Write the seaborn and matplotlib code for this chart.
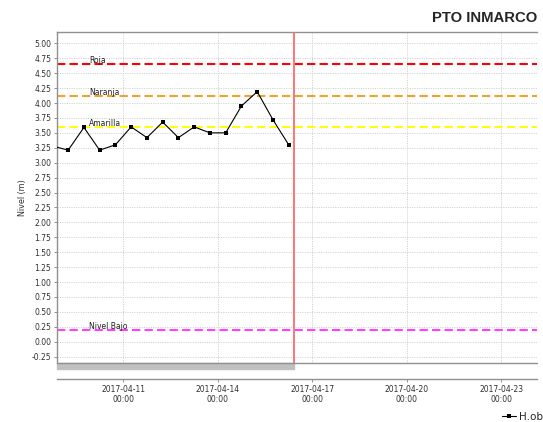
import pandas as pd
import matplotlib
matplotlib.use("Agg")
import matplotlib.pyplot as plt
import matplotlib.dates as mdates
import matplotlib.ticker as mticker
from matplotlib.patches import Rectangle
from matplotlib.lines import Line2D
import seaborn as sns

# datos de nivel observado (cada 12 h)
fechas = pd.date_range("2017-04-08 18:00", "2017-04-16 06:00", freq="12h")
nivel_obs = [3.28, 3.21, 3.59, 3.21, 3.30, 3.60, 3.42, 3.68, 3.42, 3.60,
             3.50, 3.50, 3.95, 4.19, 3.72, 3.30]

# umbrales de alerta
umbral_nombres = ["Roja", "Naranja", "Amarilla", "Nivel Bajo"]
umbral_valores = [4.65, 4.12, 3.60, 0.19]
umbral_colores = ["#ff0000", "#f5a02a", "#ffff00", "#ff40ff"]

titulo = "PTO INMARCO"
fecha_actual = pd.Timestamp("2017-04-16 10:20")
x_ini = pd.Timestamp("2017-04-08 21:16")
x_fin = pd.Timestamp("2017-04-24 03:10")
etiqueta_x = pd.Timestamp("2017-04-09 22:00")

sns.set_style("white")
plt.rcParams['font.family'] = ['DejaVu Sans']

fig = plt.figure(figsize=(5.43, 4.22), dpi=100)
ax = fig.add_axes([0.1044, 0.1398, 0.8846, 0.7851])

df = pd.DataFrame({"Fecha": fechas, "Nivel": nivel_obs})

# lineas de umbral con su etiqueta
for nombre, valor, color in zip(umbral_nombres, umbral_valores, umbral_colores):
    ax.axhline(valor, color=color, lw=1.5, ls=(0, (4, 2)), zorder=2)
    ax.annotate(nombre, (mdates.date2num(etiqueta_x), valor), xytext=(0, 2.6),
                textcoords="offset points", fontsize=5.5, va="center", ha="left",
                color="#202020", zorder=4)

sns.lineplot(data=df, x="Fecha", y="Nivel", ax=ax, color="black", lw=0.8,
             marker="s", markersize=2.6, markeredgewidth=0, label="H.obs",
             legend=False, zorder=3)

# linea vertical de fecha actual
ax.axvline(fecha_actual, color="#ff6a6a", lw=1.3, zorder=3)

ax.set_xlim(x_ini, x_fin)
ax.set_ylim(-0.356, 5.195)
ax.yaxis.set_major_locator(mticker.MultipleLocator(0.25))
ax.yaxis.set_major_formatter(mticker.FormatStrFormatter("%.2f"))
ax.xaxis.set_major_locator(mdates.DayLocator(bymonthday=[11, 14, 17, 20, 23]))
ax.xaxis.set_major_formatter(mdates.DateFormatter("%Y-%m-%d\n%H:%M"))

ax.grid(True, color="#cccccc", ls=(0, (1.4, 1.4)), lw=0.6)
ax.set_xlabel("")
ax.set_ylabel("Nivel (m)", fontsize=5.8, color="#303030", labelpad=3)
ax.tick_params(axis="y", labelsize=5.5, length=2, width=0.6, pad=2,
               colors="#808080", labelcolor="#303030", left=True)
ax.tick_params(axis="x", labelsize=5.5, length=2, width=0.6, pad=2,
               colors="#808080", labelcolor="#303030", bottom=True)
for lbl in ax.get_xticklabels():
    lbl.set_linespacing(1.3)

for s in ["top", "left", "bottom"]:
    ax.spines[s].set_color("#909090")
    ax.spines[s].set_linewidth(1.0)
ax.spines["right"].set_visible(False)
ax.spines["bottom"].set_position(("outward", 11.5))

# marco inferior del area de trazado y barra gris
ax.add_line(Line2D([0, 1], [0, 0], transform=ax.transAxes, color="#909090",
                   lw=1.0, clip_on=False, zorder=5))
trans = matplotlib.transforms.blended_transform_factory(ax.transData, ax.transAxes)
x0 = mdates.date2num(x_ini)
x1 = mdates.date2num(fecha_actual)
ax.add_patch(Rectangle((x0, -0.019), x1 - x0, 0.019, transform=trans,
                       color="#c0c0c0", clip_on=False, zorder=4))

fig.text(0.989, 0.957, titulo, ha="right", va="center", fontsize=10.7,
         fontweight="bold", family="Liberation Sans")

fig.legend(loc="center left", bbox_to_anchor=(0.925, 0.012), frameon=False,
           fontsize=7.5, handlelength=1.3, handletextpad=0.3, borderpad=0,
           borderaxespad=0)

fig.savefig("out.png", dpi=100)
